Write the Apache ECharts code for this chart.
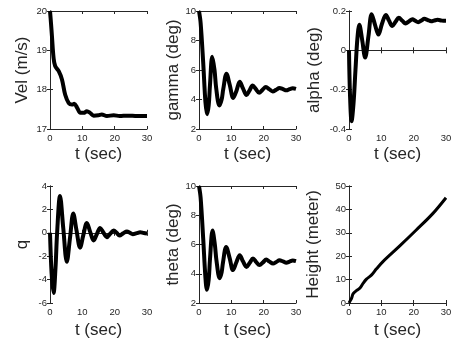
<!DOCTYPE html>
<html><head><meta charset="utf-8">
<script src="https://cdn.jsdelivr.net/npm/echarts@6/dist/echarts.min.js"></script>
<style>html,body{margin:0;padding:0;background:#fff}#c{width:463px;height:347px}</style>
</head><body><div id="c"></div>
<script>
// x ticks shared by all panels
const xTicks = [0, 10, 20, 30];
// series values: [t (sec), value]
const vel = [[0,20],[0.3,19.7],[0.6,19.36],[1.1,18.81],[1.6,18.6],[2.7,18.47],[3.7,18.26],[4.7,17.87],[5.8,17.66],[6.8,17.62],[7.5,17.64],[8.4,17.54],[9.4,17.41],[10.4,17.41],[11.4,17.45],[12.4,17.41],[13.5,17.34],[15,17.35],[16,17.37],[17.6,17.33],[19.7,17.35],[21.5,17.33],[24,17.34],[27,17.33],[30,17.33]];
const gamma = [[0,10],[0.5,9.2],[1.3,6.5],[2.0,3.8],[2.5,3.0],[3.0,3.6],[3.4,5.0],[4.1,6.9],[4.8,6.0],[5.3,4.8],[6.3,3.6],[7.0,4.0],[7.5,4.7],[8.5,5.75],[9.5,5.0],[10.6,4.1],[11.6,4.6],[12.6,5.2],[13.6,4.75],[14.7,4.3],[15.6,4.6],[16.6,4.95],[17.6,4.7],[18.6,4.45],[19.6,4.65],[20.7,4.85],[21.7,4.7],[22.8,4.55],[23.8,4.65],[24.9,4.78],[26,4.7],[27,4.62],[28,4.7],[29,4.76],[30,4.72]];
const alpha = [[0,0],[0.3,-0.22],[0.8,-0.36],[1.4,-0.27],[2.0,-0.1],[2.6,0.06],[3.2,0.13],[4.1,0.05],[5.0,-0.037],[6.0,0.07],[7.0,0.183],[8.05,0.13],[9.1,0.08],[10.2,0.135],[11.4,0.18],[12.4,0.15],[13.4,0.124],[14.4,0.145],[15.4,0.166],[16.5,0.15],[17.5,0.137],[18.6,0.148],[19.6,0.158],[20.5,0.15],[21.4,0.143],[22.4,0.152],[23.3,0.16],[24.4,0.154],[25.4,0.148],[26.4,0.152],[27.4,0.155],[28.7,0.151],[30,0.15]];
const q = [[0,0],[0.5,-3.5],[1.1,-5.15],[1.7,-3.0],[2.2,0],[3.1,3.15],[4.1,0.4],[5.2,-2.48],[6.2,-0.4],[7.2,1.66],[8.2,0.2],[9.3,-1.27],[10.3,-0.2],[11.4,0.84],[12.4,0.1],[13.5,-0.65],[14.5,-0.1],[15.5,0.42],[16.5,0.03],[17.6,-0.37],[18.6,-0.08],[19.7,0.2],[20.6,0],[21.5,-0.23],[22.6,-0.05],[23.8,0.11],[24.7,0],[25.6,-0.12],[26.8,-0.03],[27.9,0.05],[29,-0.02],[30,-0.05]];
const theta = [[0,10],[0.5,9.2],[1.3,6.4],[2.0,3.7],[2.45,2.9],[3.0,3.6],[3.4,5.0],[4.2,6.95],[4.9,6.0],[5.4,4.9],[6.4,3.7],[7.0,4.1],[7.4,4.75],[8.4,5.83],[9.5,5.05],[10.5,4.25],[11.5,4.75],[12.6,5.27],[13.6,4.85],[14.7,4.47],[15.7,4.75],[16.7,5.04],[17.7,4.8],[18.7,4.6],[19.8,4.78],[20.8,4.97],[21.8,4.83],[22.9,4.7],[23.9,4.8],[24.9,4.92],[26,4.84],[27,4.76],[28,4.83],[29,4.9],[30,4.86]];
const height = [[0,0],[0.4,1.0],[0.8,2.1],[1.3,4.0],[2.4,5.4],[3.4,6.4],[4.4,8.5],[5.4,10.2],[7.0,12.0],[8.5,14.6],[10.5,17.7],[15.7,24.4],[20.8,31.2],[25.9,38.2],[30,45.0]];
// y-axis labels and ranges
const yNames = ['Vel (m/s)', 'gamma (deg)', 'alpha (deg)', 'q', 'theta (deg)', 'Height (meter)'];
const yMins = [17, 2, -0.4, -6, 2, 0];
const yMaxs = [20, 10, 0.2, 4, 10, 50];
const yIntervals = [1, 2, 0.2, 2, 2, 10];
const xName = 't (sec)';
const seriesData = [vel, gamma, alpha, q, theta, height];

const FONT = "'Liberation Sans', Arial, sans-serif";
const AX = '#262626';
const lefts = [50, 199, 349];
const tops = [11, 186];
const heights = [118, 117];
const nameGaps = [19, 11, 26, 19, 13, 27];
const xNameGaps = [17, 19];
const lineWidths = [4, 4, 4, 4, 4, 3];

const grid = [], xAxis = [], yAxis = [], series = [];
for (let i = 0; i < 6; i++) {
  const r = Math.floor(i / 3), c = i % 3;
  grid.push({left: lefts[c], top: tops[r], width: 97, height: heights[r], containLabel: false});
  const tick = {show: true, inside: true, length: 3, lineStyle: {color: AX, width: 1}};
  const line = {show: true, lineStyle: {color: AX, width: 1}};
  xAxis.push({type: 'value', gridIndex: i, min: xTicks[0], max: xTicks[xTicks.length - 1], interval: xTicks[1] - xTicks[0],
    position: 'bottom', name: xName, nameLocation: 'middle', nameGap: xNameGaps[r],
    nameTextStyle: {fontFamily: FONT, fontSize: 17, color: AX},
    axisLine: line, axisTick: tick, splitLine: {show: false},
    axisLabel: {fontFamily: FONT, fontSize: 9.5, color: AX, margin: 4}});
  xAxis.push({type: 'value', gridIndex: i, min: xTicks[0], max: xTicks[xTicks.length - 1], interval: xTicks[1] - xTicks[0],
    position: 'top', axisLine: line, axisTick: tick, splitLine: {show: false}, axisLabel: {show: false}});
  yAxis.push({type: 'value', gridIndex: i, min: yMins[i], max: yMaxs[i], interval: yIntervals[i],
    position: 'left', name: yNames[i], nameLocation: 'middle', nameGap: nameGaps[i],
    nameTextStyle: {fontFamily: FONT, fontSize: 17, color: AX},
    axisLine: line, axisTick: tick, splitLine: {show: false},
    axisLabel: {fontFamily: FONT, fontSize: 9.5, color: AX, margin: 3,
      formatter: v => { const s = Math.round(v * 10) / 10; return String(s); }}});
  yAxis.push({type: 'value', gridIndex: i, min: yMins[i], max: yMaxs[i], interval: yIntervals[i],
    position: 'right', axisLine: line, axisTick: tick, splitLine: {show: false}, axisLabel: {show: false}});
  series.push({type: 'line', xAxisIndex: 2 * i, yAxisIndex: 2 * i, data: seriesData[i],
    showSymbol: false, symbol: 'none', smooth: 0.35, clip: true,
    lineStyle: {color: '#000', width: lineWidths[i]}, animation: false});
}
const chart = echarts.init(document.getElementById('c'), null, {renderer: 'canvas'});
chart.setOption({animation: false, backgroundColor: '#fff', grid, xAxis, yAxis, series});
</script></body></html>
